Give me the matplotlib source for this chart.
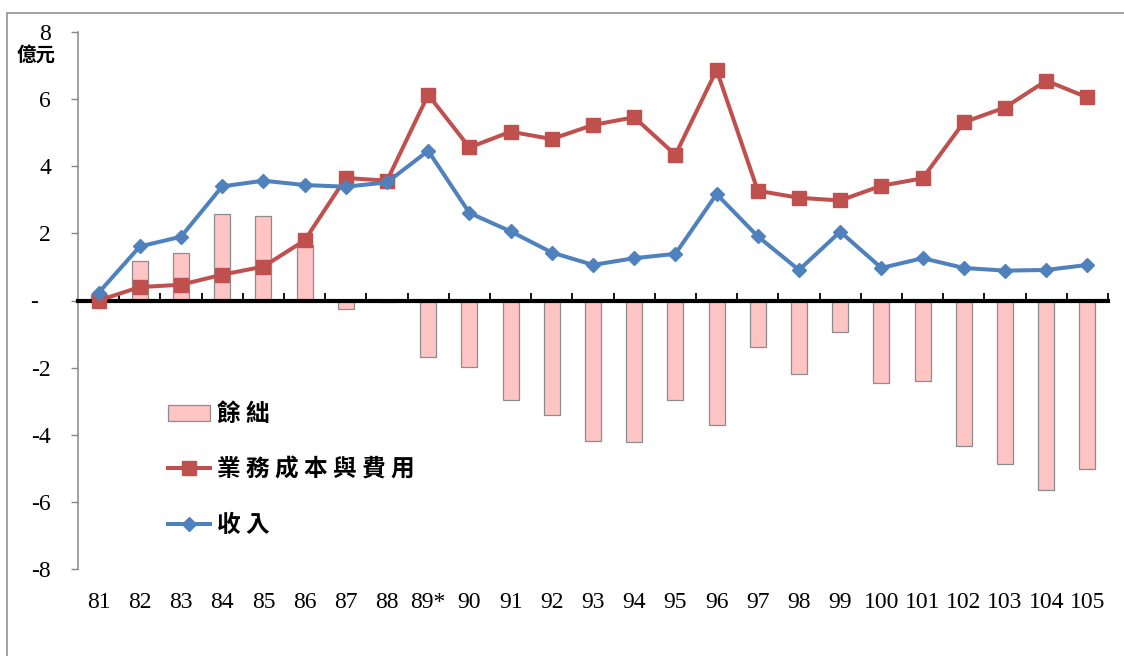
import matplotlib
matplotlib.use("Agg")
import matplotlib.pyplot as plt
from matplotlib.patches import Rectangle, Patch
from matplotlib.lines import Line2D
import numpy as np

# ---- data (億元) ----
years = ["81", "82", "83", "84", "85", "86", "87", "88", "89*", "90", "91", "92", "93",
         "94", "95", "96", "97", "98", "99", "100", "101", "102", "103", "104", "105"]
income = [0.23, 1.61, 1.90, 3.40, 3.57, 3.44, 3.39, 3.52, 4.46, 2.61, 2.06, 1.43, 1.06,
          1.26, 1.39, 3.17, 1.91, 0.91, 2.05, 0.97, 1.26, 0.97, 0.89, 0.91, 1.06]
cost = [0.00, 0.40, 0.47, 0.77, 1.01, 1.79, 3.65, 3.57, 6.13, 4.56, 5.03, 4.81, 5.23,
        5.46, 4.34, 6.87, 3.27, 3.06, 2.98, 3.42, 3.64, 5.31, 5.75, 6.55, 6.05]
balance = [0.20, 1.17, 1.41, 2.57, 2.51, 1.66, -0.26, -0.05, -1.67, -1.97, -2.97, -3.40, -4.19,
           -4.22, -2.97, -3.71, -1.38, -2.18, -0.95, -2.47, -2.39, -4.34, -4.88, -5.65, -5.02]
yticks = [-8, -6, -4, -2, 0, 2, 4, 6, 8]
ytick_labels = ["-8", "-6", "-4", "-2", "-  ", "2", "4", "6", "8"]

name_bal = "餘 絀"
name_cost = "業 務 成 本 與 費 用"
name_inc = "收 入"

RED = "#C0504D"
BLUE = "#4F81BD"
PINK = "#FFC4C4"
BAR_EDGE = "#8C8C8C"
GREY = "#868686"

serif = ["Liberation Serif", "DejaVu Serif"]
cjk = ["Noto Sans CJK TC", "DejaVu Sans"]

W, H = 1124, 656
fig = plt.figure(figsize=(W / 100, H / 100), dpi=100)
fig.patch.set_facecolor("white")

L, R, T, B = 78, 1108, 32, 569
ax = fig.add_axes([L / W, 1 - B / H, (R - L) / W, (B - T) / H])

x = np.arange(len(years))
ax.bar(x, balance, width=0.39, color=PINK, edgecolor=BAR_EDGE, linewidth=0.9, zorder=1)
ax.plot(x, cost, color=RED, lw=2.9, marker="s", ms=9.5, mec=RED, mfc=RED, zorder=4,
        solid_joinstyle="round")
ax.plot(x, income, color=BLUE, lw=2.9, marker="D", ms=6.8, mec=BLUE, mfc=BLUE, zorder=5,
        solid_joinstyle="round")

ax.set_xlim(-0.5, len(years) - 0.5)
ax.set_ylim(-8, 8)

for s in ["top", "right"]:
    ax.spines[s].set_visible(False)
ax.spines["left"].set_color(GREY)
ax.spines["left"].set_linewidth(1.1)

# zero axis line carries boundary ticks; labels pushed down to the bottom
ax.spines["bottom"].set_position(("data", 0))
ax.spines["bottom"].set_linewidth(3)
ax.spines["bottom"].set_color("black")
ax.spines["bottom"].set_zorder(3)

ax.set_yticks(yticks)
ax.set_yticklabels(ytick_labels, fontfamily=serif, fontsize=17)
ax.tick_params(axis="y", direction="out", length=5, width=1, color=GREY, pad=14.5,
               labelcolor="black")

ax.set_xticks(x)
ax.set_xticklabels(years, fontfamily=serif, fontsize=17)
ax.set_xticks(np.arange(0, len(years)) + 0.5, minor=True)
ax.tick_params(axis="x", which="major", length=0, pad=210)
ax.tick_params(axis="x", which="minor", direction="in", length=5.5, width=1.3, color="black")

# y unit label
fig.text(36 / W, 1 - 55 / H, "億元", fontfamily=cjk, fontsize=14, fontweight="bold",
         ha="center", va="center")

# legend
handles = [
    Patch(facecolor=PINK, edgecolor=BAR_EDGE, linewidth=0.9),
    Line2D([], [], color=RED, lw=2.9, marker="s", ms=9.5),
    Line2D([], [], color=BLUE, lw=2.9, marker="D", ms=6.8),
]
leg = fig.legend(handles, [name_bal, name_cost, name_inc], loc="upper left",
                 bbox_to_anchor=(168 / W, 1 - 402 / H), frameon=False,
                 prop={"family": cjk, "size": 17, "weight": "bold"},
                 handlelength=1.78, handletextpad=0.3, labelspacing=1.33,
                 borderpad=0, borderaxespad=0, handleheight=0.65)

# outer frame
fig.patches.append(Rectangle((7 / W, -0.2), 1.5, (H - 13) / H + 0.2, transform=fig.transFigure,
                             fill=False, edgecolor="#8A8A8A", linewidth=1.1, clip_on=False))

fig.savefig("out.png", dpi=100)
